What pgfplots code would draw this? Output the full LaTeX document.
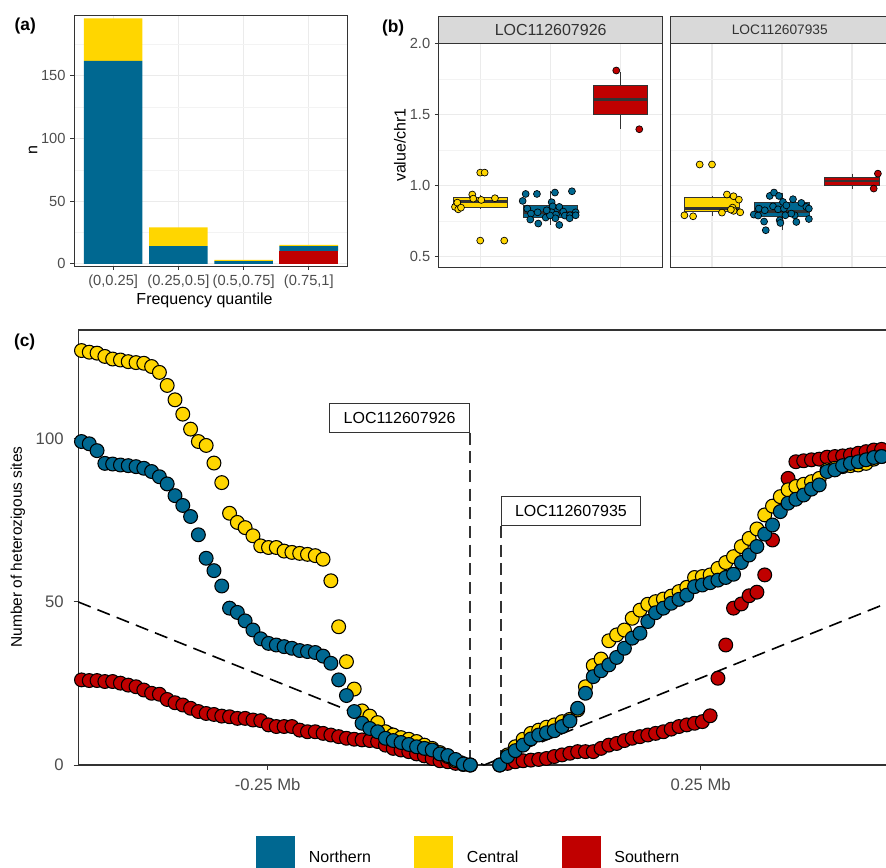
\documentclass[border=0pt]{standalone}
\usepackage{pgfplots}
\pgfplotsset{compat=1.18}
\usepackage{pgfplotstable}
\usepgfplotslibrary{statistics}
\usepackage{fontspec}
\setmainfont{Liberation Sans}
\definecolor{cN}{RGB}{0,104,145}
\definecolor{cC}{RGB}{255,214,0}
\definecolor{cS}{RGB}{192,0,0}
\definecolor{g20}{RGB}{51,51,51}
\definecolor{g30}{RGB}{77,77,77}
\definecolor{g92}{RGB}{235,235,235}
\definecolor{g95}{RGB}{243,243,243}
\definecolor{g85}{RGB}{217,217,217}

\pgfplotstableread{
x N C S
-0.465 99.2 127.1 26.1
-0.456 98.5 126.6 25.9
-0.447 96.4 126.3 25.9
-0.438 92.5 125.3 25.6
-0.429 92.3 124.5 25.6
-0.420 92.0 124.2 25.1
-0.411 91.8 123.7 24.5
-0.402 91.5 123.4 24.0
-0.393 91.0 123.2 23.0
-0.384 90.0 122.2 22.0
-0.375 88.4 120.4 21.7
-0.366 86.2 116.4 20.1
-0.357 82.6 112.0 19.1
-0.348 79.6 107.6 18.4
-0.339 76.2 103.0 17.4
-0.330 70.6 99.2 16.4
-0.321 63.4 98.0 15.8
-0.312 59.6 92.6 15.5
-0.303 54.9 86.6 15.0
-0.294 48.1 77.2 14.8
-0.285 46.8 74.4 14.3
-0.276 44.2 72.8 14.3
-0.267 41.4 70.3 13.8
-0.258 38.7 67.2 13.6
-0.249 37.3 66.7 12.3
-0.240 36.8 66.7 11.8
-0.231 36.3 65.6 11.8
-0.222 35.8 65.2 11.8
-0.213 35.1 64.9 10.7
-0.204 34.8 64.6 10.2
-0.195 34.5 64.2 10.2
-0.186 33.4 63.1 9.7
-0.177 31.2 56.5 9.2
-0.168 26.1 42.4 8.7
-0.159 21.3 31.7 8.2
-0.150 16.4 23.3 7.9
-0.141 12.8 16.6 7.7
-0.132 11.2 15.0 7.5
-0.123 10.2 13.0 7.2
-0.114 8.2 10.2 6.1
-0.105 7.5 9.2 5.1
-0.096 6.9 8.4 4.6
-0.087 6.3 7.9 4.1
-0.078 5.6 7.2 3.4
-0.069 5.1 6.1 2.8
-0.060 4.6 5.1 2.0
-0.051 3.4 3.8 1.3
-0.042 2.9 2.6 1.0
-0.033 1.7 1.3 0.5
-0.024 0.3 0.2 0.2
-0.016 0 0 0
}\leftdata

\pgfplotstableread{
x N C S
0.018 0 0 0
0.027 2.6 3.1 0.5
0.036 4.4 5.6 1.0
0.045 6.1 7.9 1.3
0.054 8.0 9.7 1.5
0.063 9.2 10.7 1.7
0.072 9.9 11.6 2.0
0.081 10.5 12.3 2.6
0.090 11.8 13.3 3.1
0.099 13.5 14.0 3.6
0.108 17.4 16.9 4.1
0.117 22.0 24.0 4.1
0.126 27.1 30.5 4.1
0.135 28.9 32.5 5.1
0.144 30.7 38.1 6.1
0.153 33.0 39.9 6.6
0.162 35.8 41.4 7.5
0.171 38.9 45.0 8.2
0.180 40.4 47.5 8.7
0.189 44.0 49.3 9.2
0.198 46.7 50.1 9.7
0.207 48.1 50.9 10.2
0.216 49.6 51.8 11.0
0.225 50.8 53.2 11.8
0.234 52.1 54.5 12.3
0.243 54.7 57.5 12.8
0.252 55.2 57.8 13.3
0.261 55.9 58.3 15.1
0.270 56.7 60.3 26.6
0.279 57.5 62.1 36.8
0.288 58.5 63.9 48.1
0.297 62.1 67.0 49.4
0.306 64.4 69.5 51.9
0.315 67.0 72.4 53.0
0.324 70.8 76.7 58.3
0.333 73.6 79.4 69.0
0.342 77.7 82.3 81.3
0.351 80.3 84.4 87.9
0.360 81.5 85.4 93.0
0.369 82.8 86.1 93.3
0.378 84.6 86.9 93.6
0.387 85.9 87.9 93.8
0.396 90.0 90.5 94.4
0.405 90.5 91.0 94.6
0.414 91.8 91.5 94.8
0.423 92.5 91.8 95.1
0.432 93.0 92.0 95.6
0.441 93.6 92.5 96.1
0.450 94.3 93.8 96.6
0.459 94.6 94.6 96.8
}\rightdata

\pgfplotsset{
  ggbase/.style={
    scale only axis, anchor=north west,
    /pgf/number format/assume math mode=true,
    axis line style={g20, line width=0.75pt},
    tick style={g20, line width=0.75pt},
    tick align=outside, major tick length=2.8pt, minor tick length=0pt,
    xtick pos=left, ytick pos=left,
    major grid style={g92, line width=0.8pt},
    minor grid style={g95, line width=0.45pt},
  },
  pts/.style={only marks, mark=*, mark size=2.6pt, mark options={fill=#1, draw=black, line width=0.5pt}},
  bigpts/.style={only marks, mark=*, mark size=5.2pt, mark options={fill=#1, draw=black, line width=0.8pt}},
  gbox/.style 2 args={boxplot/draw direction=y, boxplot/draw position=#1, boxplot/box extend=0.78, boxplot/whisker extend=0, fill=#2, draw=g20, line width=0.75pt},
  boxplot/every median/.style={line width=2pt},
}

\begin{document}
\begin{tikzpicture}
\useasboundingbox (0,0) rectangle (664.5pt,-651pt);
\clip (0,0) rectangle (664.5pt,-651pt);

% ---------------- panel (a)
\begin{axis}[ggbase, at={(55.5pt,-11.25pt)}, width=205.5pt, height=188.25pt,
  xmin=0.4, xmax=4.6, ymin=-1.8, ymax=198.6,
  ybar stacked, bar width=0.9,
  xtick={1,2,3,4}, xticklabels={{(0,0.25]},{(0.25,0.5]},{(0.5,0.75]},{(0.75,1]}},
  ytick={0,50,100,150}, minor ytick={25,75,125,175},
  xmajorgrids, ymajorgrids, yminorgrids,
  tick label style={font=\fontsize{11}{13}\selectfont, text=g30},
]
\addplot[fill=cS, draw=none] coordinates {(1,0) (2,0) (3,0) (4,10)};
\addplot[fill=cN, draw=none] coordinates {(1,162) (2,14) (3,2) (4,4)};
\addplot[fill=cC, draw=none] coordinates {(1,34) (2,15) (3,1) (4,1)};
\end{axis}

% ---------------- panel (b) facet 1
\begin{axis}[ggbase, at={(329pt,-32.5pt)}, width=168pt, height=168pt,
  xmin=0.4, xmax=3.6, ymin=0.425, ymax=2.0, clip=false,
  xtick={1,2,3}, xticklabels={}, xtick style={draw=none},
  ytick={0.5,1,1.5,2}, yticklabels={0.5,1.0,1.5,2.0}, minor ytick={0.75,1.25,1.75},
  xmajorgrids, ymajorgrids, yminorgrids,
  tick label style={font=\fontsize{11}{13}\selectfont, text=g30},
]
\addplot[gbox={1}{cC}, boxplot prepared={median=0.887, upper quartile=0.916, lower quartile=0.845, upper whisker=0.937, lower whisker=0.833}] coordinates {};
\addplot[gbox={2}{cN}, boxplot prepared={median=0.812, upper quartile=0.857, lower quartile=0.775, upper whisker=0.96, lower whisker=0.723}] coordinates {};
\addplot[gbox={3}{cS}, boxplot prepared={median=1.605, upper quartile=1.703, lower quartile=1.497, upper whisker=1.80, lower whisker=1.398}] coordinates {};
\addplot[pts=cC] coordinates {(0.633,0.850) (0.666,0.880) (0.680,0.833) (0.719,0.845) (0.880,0.937) (0.894,0.908) (1.009,0.899) (0.994,1.091) (1.057,1.091) (1.204,0.911) (0.994,0.613) (1.337,0.613)};
\addplot[pts=cN] coordinates {(1.600,0.892) (1.643,0.941) (1.804,0.941) (1.666,0.838) (1.719,0.803) (1.814,0.812) (1.709,0.761) (1.823,0.733) (1.929,0.775) (2.014,0.883) (2.029,0.854) (2.061,0.951) (2.014,0.812) (2.076,0.796) (2.067,0.770) (2.123,0.850) (2.123,0.723) (2.180,0.817) (2.204,0.789) (2.304,0.960) (2.276,0.791) (2.357,0.812) (2.357,0.791) (2.271,0.770) (1.99,0.79) (1.943,0.826)};
\addplot[pts=cS] coordinates {(2.937,1.809) (3.266,1.396)};
\draw[g20, fill=g85, line width=0.75pt] (rel axis cs:0,1) rectangle ([yshift=20pt]rel axis cs:1,1);
\node[font=\fontsize{12}{14}\selectfont, text=g20] at ([yshift=10pt]rel axis cs:0.5,1) {LOC112607926};
\end{axis}

% ---------------- panel (b) facet 2
\begin{axis}[ggbase, at={(502.5pt,-32.5pt)}, width=168pt, height=168pt,
  xmin=0.4, xmax=3.6, ymin=0.425, ymax=2.0, clip=false,
  xtick={1,2,3}, xticklabels={}, xtick style={draw=none},
  ytick={0.5,1,1.5,2}, yticklabels={}, ytick style={draw=none}, minor ytick={0.75,1.25,1.75},
  xmajorgrids, ymajorgrids, yminorgrids,
]
\addplot[gbox={1}{cC}, boxplot prepared={median=0.840, upper quartile=0.916, lower quartile=0.817, upper whisker=0.930, lower whisker=0.785}] coordinates {};
\addplot[gbox={2}{cN}, boxplot prepared={median=0.817, upper quartile=0.878, lower quartile=0.784, upper whisker=0.951, lower whisker=0.686}] coordinates {};
\addplot[gbox={3}{cS}, boxplot prepared={median=1.032, upper quartile=1.060, lower quartile=1.002, upper whisker=1.084, lower whisker=0.979}] coordinates {};
\addplot[pts=cC] coordinates {(0.606,0.791) (0.730,0.784) (0.824,1.148) (1.0,1.148) (1.142,0.810) (1.213,0.937) (1.308,0.925) (1.384,0.901) (1.294,0.845) (1.308,0.822) (1.403,0.812) (1.27,0.831)};
\addplot[pts=cN] coordinates {(1.597,0.796) (1.659,0.789) (1.669,0.838) (1.754,0.826) (1.744,0.747) (1.768,0.686) (1.825,0.927) (1.886,0.951) (1.957,0.927) (1.872,0.854) (1.943,0.833) (1.967,0.756) (1.977,0.737) (2.014,0.885) (2.028,0.838) (2.048,0.791) (2.157,0.904) (2.181,0.791) (2.205,0.744) (2.276,0.878) (2.347,0.850) (2.384,0.838) (2.384,0.765) (2.062,0.861) (2.133,0.803)};
\addplot[pts=cS] coordinates {(3.37,1.084) (3.31,0.979)};
\draw[g20, fill=g85, line width=0.75pt] (rel axis cs:0,1) rectangle ([yshift=20pt]rel axis cs:1,1);
\node[font=\fontsize{10.3}{12}\selectfont, text=g20] at ([yshift=10pt]rel axis cs:0.49,1) {LOC112607935};
\end{axis}

% ---------------- panel (c)
\begin{axis}[ggbase, at={(58.7pt,-247.5pt)}, width=608.8pt, height=326.25pt,
  xmin=-0.4687, xmax=0.4687, ymin=0, ymax=133.4, clip=false,
  xtick={-0.25,0.25}, xticklabels={-0.25 Mb,0.25 Mb}, ytick={0,50,100},
  axis line style={g20, line width=1pt}, major tick length=3.5pt,
  tick label style={font=\fontsize{12.5}{14}\selectfont, text=g30},
  xticklabel style={yshift=-3pt}, yticklabel style={xshift=-4pt},
  legend style={at={(0.219,-0.2)}, anchor=west, draw=none, fill=none, inner sep=0pt,
    legend columns=3, font=\fontsize{12}{14}\selectfont,
    nodes={inner sep=0pt, anchor=west, yshift=-4pt},
    /tikz/every odd column/.append style={column sep=10.5pt},
    /tikz/every even column/.append style={column sep=32.5pt}},
  legend cell align=left,
]
\addplot[g20, line width=1.1pt, dash pattern=on 9pt off 5pt, forget plot] coordinates {(-0.0164,101.9) (-0.0164,0)};
\addplot[g20, line width=1.1pt, dash pattern=on 9pt off 5pt, forget plot] coordinates {(0.0194,73.3) (0.0194,0)};
\addplot[black, line width=1.2pt, dash pattern=on 10pt off 5.5pt, forget plot] coordinates {(-0.4687,50) (0,0)};
\addplot[black, line width=1.2pt, dash pattern=on 10pt off 5.5pt, forget plot] coordinates {(0,0) (0.4687,50)};
\addplot[bigpts=cS, forget plot] table[x=x, y=S] {\leftdata};
\addplot[bigpts=cS, forget plot] table[x=x, y=S] {\rightdata};
\addplot[bigpts=cC, forget plot] table[x=x, y=C] {\leftdata};
\addplot[bigpts=cC, forget plot] table[x=x, y=C] {\rightdata};
\addplot[bigpts=cN, forget plot] table[x=x, y=N] {\leftdata};
\addplot[bigpts=cN, forget plot] table[x=x, y=N] {\rightdata};
\node[draw=g20, fill=white, line width=0.75pt, anchor=south east, minimum width=104.8pt, minimum height=21.2pt, inner sep=0pt, font=\fontsize{12}{14}\selectfont] at (axis cs:-0.0164,101.9) {LOC112607926};
\node[draw=g20, fill=white, line width=0.75pt, anchor=south west, minimum width=104.3pt, minimum height=21.75pt, inner sep=0pt, font=\fontsize{12}{14}\selectfont] at (axis cs:0.0194,73.3) {LOC112607935};
\addlegendimage{legend image code/.code={\fill[cN] (0pt,-12pt) rectangle (28.5pt,12pt);}}
\addlegendentry{Northern}
\addlegendimage{legend image code/.code={\fill[cC] (0pt,-12pt) rectangle (28.5pt,12pt);}}
\addlegendentry{Central}
\addlegendimage{legend image code/.code={\fill[cS] (0pt,-12pt) rectangle (28.5pt,12pt);}}
\addlegendentry{Southern}
\end{axis}

% ---------------- texts
\node[anchor=west, font=\bfseries\fontsize{13}{15}\selectfont] at (7.5pt,-19.5pt) {(a)};
\node[anchor=west, font=\bfseries\fontsize{13}{15}\selectfont] at (283pt,-21pt) {(b)};
\node[anchor=west, font=\bfseries\fontsize{13}{15}\selectfont] at (7pt,-256.5pt) {(c)};
\node[rotate=90, font=\fontsize{12}{14}\selectfont] at (24.75pt,-112.5pt) {n};
\node[font=\fontsize{12}{14}\selectfont] at (153.4pt,-225pt) {Frequency quantile};
\node[rotate=90, font=\fontsize{12}{14}\selectfont] at (300pt,-108.75pt) {value/chr1};
\node[rotate=90, font=\fontsize{11.6}{14}\selectfont] at (13.5pt,-410.25pt) {Number of heterozigous sites};
\end{tikzpicture}
\end{document}
